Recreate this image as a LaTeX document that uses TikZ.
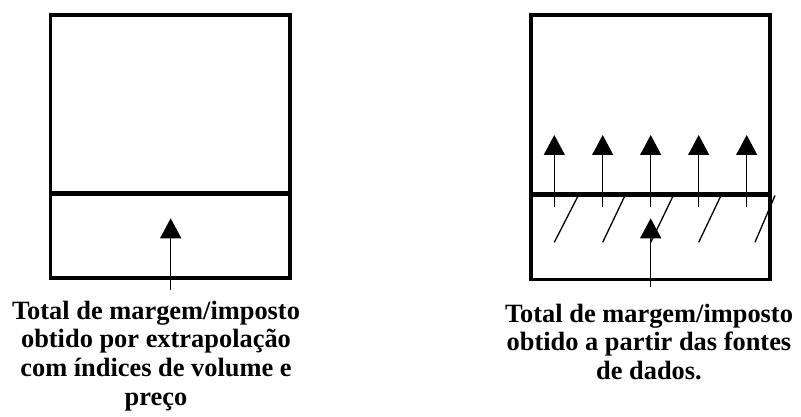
\documentclass[tikz,border=0pt]{standalone}
\usepackage{fontspec}
\setmainfont{Liberation Serif}
\usetikzlibrary{arrows.meta}
\tikzset{
  boxline/.style={line width=3.2pt},
  midline/.style={line width=5pt},
  uparrow/.style={line width=1.4pt,-{Triangle[width=21pt,length=20pt]}},
  hatch/.style={line width=1.3pt},
  label/.style={font=\bfseries\fontsize{26.4}{28.7}\selectfont,align=center,inner sep=0pt,anchor=north}
}
\begin{document}
\begin{tikzpicture}[x=1pt,y=-1pt]
\useasboundingbox (0,0) rectangle (801,417);
% left box
\coordinate (L1) at (50.5,15);
\coordinate (L2) at (290,278);
\draw[boxline] (L1) rectangle (L2);
\coordinate (LmA) at (50.5,193.7);
\coordinate (LmB) at (290,193.7);
\draw[midline] (LmA) -- (LmB);
\coordinate (LaS) at (170.7,290);
\coordinate (LaE) at (170.7,218.3);
\draw[uparrow] (LaS) -- (LaE);
\node[label] (Ltxt) at (156,300.5) {Total de margem/imposto\\obtido por extrapolação\\com índices de volume e\\preço};
% right box
\coordinate (R1) at (531,15);
\coordinate (R2) at (770,279.3);
\draw[boxline] (R1) rectangle (R2);
% hatch lines
\foreach \i/\xa/\xb in {1/554.3/578.3, 2/602.7/625, 3/650.7/673.3, 4/698.7/721, 5/755/775}{
  \coordinate (h\i a) at (\xa,242.3);
  \coordinate (h\i b) at (\xb,195.5);
  \draw[hatch] (h\i a) -- (h\i b);
}
\coordinate (RmA) at (531,194.5);
\coordinate (RmB) at (770,194.5);
\draw[midline] (RmA) -- (RmB);
% small arrows
\foreach \i/\x in {1/554.3, 2/602.7, 3/650.7, 4/698.7, 5/746.7}{
  \coordinate (s\i a) at (\x,206.7);
  \coordinate (s\i b) at (\x,135);
  \draw[uparrow] (s\i a) -- (s\i b);
}
\coordinate (RaS) at (650.7,286.7);
\coordinate (RaE) at (650.7,218.3);
\draw[uparrow] (RaS) -- (RaE);
\node[label] (Rtxt) at (649,303.5) {Total de margem/imposto\\obtido a partir das fontes\\de dados.};
\end{tikzpicture}
\end{document}
